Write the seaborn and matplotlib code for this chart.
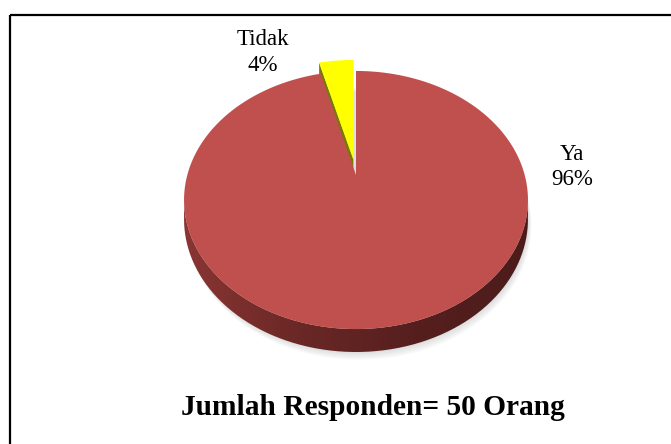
import numpy as np
import matplotlib
matplotlib.use("Agg")
import matplotlib.pyplot as plt
import matplotlib.transforms as mtransforms
from matplotlib.path import Path
from matplotlib.patches import Rectangle, PathPatch, Polygon
from matplotlib.colors import LinearSegmentedColormap
import seaborn as sns

# ---- data ----
categories = ["Ya", "Tidak"]
percent = [96, 4]
pct_labels = ["96%", "4%"]
explode = [0.0, 0.13]
slice_colors = ["#C0504D", "#FFFF00"]
title = "Jumlah Responden= 50 Orang"

sns.set_theme(style="white")
plt.rcParams['font.family'] = ['Liberation Serif', 'DejaVu Serif']

W, H = 671, 444
fig = plt.figure(figsize=(W / 100, H / 100), dpi=100)
fig.patch.set_facecolor("white")

# perspective parameters (pixel space)
X0, Y0, A, B, K = 356.0, 175.0, 168.7, 124.2, 0.1938
DEPTH = 18.5


class Persp(mtransforms.Transform):
    input_dims = output_dims = 2
    is_separable = False
    has_inverse = False

    def __init__(self, dy=0.0):
        super().__init__()
        self.dy = dy

    def transform_non_affine(self, values):
        values = np.asarray(values, float).reshape(-1, 2)
        u, v = values[:, 0], values[:, 1]
        w = 1 + K * v
        return np.column_stack([X0 + A * u / w, Y0 + self.dy / w - B * v / w])

    def transform_path_non_affine(self, path):
        pts = [seg(np.linspace(0, 1, 60)) for seg, code in path.iter_bezier()]
        pts = np.concatenate(pts)
        return Path(self.transform_non_affine(pts))


def circ(t, dy=0.0, cx=0.0, cy=0.0):
    return Persp(dy).transform_non_affine(np.column_stack([cx + np.cos(t), cy + np.sin(t)]))


# background axes in pixel coords
ax = fig.add_axes([0, 0, 1, 1])
ax.set_xlim(0, W)
ax.set_ylim(H, 0)
ax.axis("off")

# soft shadow under the pie
tt = np.linspace(0, 2 * np.pi, 400)
for i in range(5):
    pts = circ(tt, DEPTH + 1 + i * 1.3)
    pts[:, 0] += 1 + i * 0.6
    ax.add_patch(Polygon(pts, closed=True, facecolor="#808080", edgecolor="none", alpha=0.05, zorder=1))

# side band of the pie (near half)
t_side = np.linspace(np.pi + np.arcsin(K), 2 * np.pi - np.arcsin(K), 300)
top_edge = circ(t_side, 0)
bot_edge = circ(t_side, DEPTH)
side_poly = np.vstack([top_edge, bot_edge[::-1]])
side_patch = PathPatch(Path(side_poly), facecolor="none", edgecolor="none", zorder=2)
ax.add_patch(side_patch)
grad = np.linspace(0, 1, 256)
side_cmap = LinearSegmentedColormap.from_list("side", ["#8a3634", "#6a2826", "#561f1e", "#4b1c1b"])
im = ax.imshow(grad[None, :], cmap=side_cmap, aspect="auto",
               extent=[X0 - 175, X0 + 175, 360, 170], zorder=2)
im.set_clip_path(side_patch)

# pie itself (matplotlib pie, with perspective transform)
ax_pie = fig.add_axes([0, 0, 1, 1])
wedges, _ = ax_pie.pie(percent, startangle=90, counterclock=False, explode=explode,
                       colors=slice_colors, radius=1, center=(0, 0),
                       wedgeprops=dict(linewidth=0, antialiased=True))
ax_pie.set_xlim(0, W)
ax_pie.set_ylim(H, 0)
ax_pie.set_aspect("auto")
ax_pie.axis("off")
ax_pie.patch.set_alpha(0)

# exploded yellow slice: side face (left radial face)
yw = wedges[1]
th2 = np.deg2rad(yw.theta2)
cx, cy = yw.center
p_tip_top = Persp(0).transform_non_affine([[cx, cy]])[0]
p_out_top = Persp(0).transform_non_affine([[cx + np.cos(th2), cy + np.sin(th2)]])[0]
p_tip_bot = Persp(DEPTH).transform_non_affine([[cx, cy]])[0]
p_out_bot = Persp(DEPTH).transform_non_affine([[cx + np.cos(th2), cy + np.sin(th2)]])[0]
ax_pie.add_patch(Polygon([p_tip_top, p_out_top, p_out_bot, p_tip_bot], closed=True,
                         facecolor="#7a7a00", edgecolor="none", zorder=1))

for w in wedges:
    w.set_transform(Persp(0) + ax_pie.transData)
    w.set_zorder(2)

# thin light edge at the gap (12 o'clock face of the big slice)
gap = Persp(0).transform_non_affine([[0, 0], [0, 1]])
ax_pie.plot(gap[:, 0] + 1.0, gap[:, 1], color="#d9d9d9", lw=1.6, zorder=1.5, solid_capstyle="butt")

# labels
ax_pie.text(572, 160, categories[0], ha="center", va="baseline", fontsize=16.5, color="black")
ax_pie.text(572, 185, pct_labels[0], ha="center", va="baseline", fontsize=16.5, color="black")
ax_pie.text(263, 45, categories[1], ha="center", va="baseline", fontsize=16.5, color="black")
ax_pie.text(263, 71, pct_labels[1], ha="center", va="baseline", fontsize=16.5, color="black")

# title at bottom
ax_pie.text(373, 415, title, ha="center", va="baseline", fontsize=21.2, fontweight="bold", color="black")

# chart border (extends beyond the image at right/bottom)
ax_pie.add_patch(Rectangle((10, 15), 700, 460, facecolor="none", edgecolor="black", lw=1.6, zorder=5))

fig.savefig("out.png", dpi=100, facecolor="white")
